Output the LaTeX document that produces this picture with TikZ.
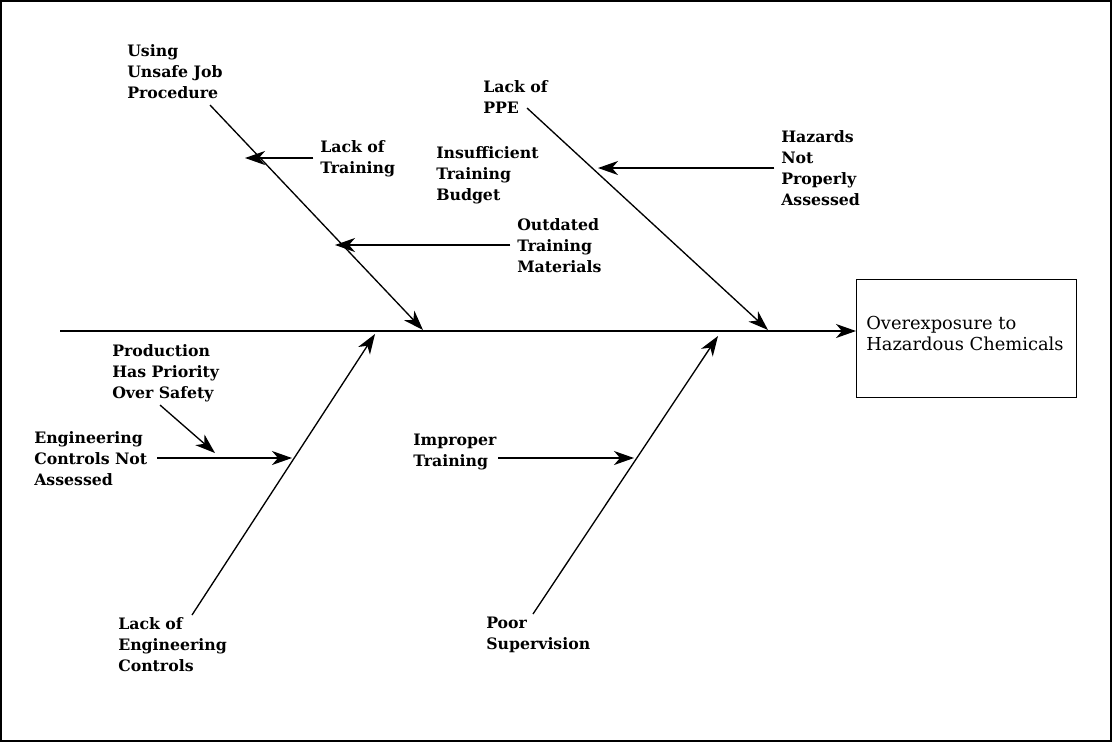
\documentclass[tikz,border=0pt]{standalone}
\usepackage{fontspec}
\setmainfont{DejaVu Serif}
\usetikzlibrary{arrows.meta}
\tikzset{
  cause/.style={font=\bfseries\fontsize{11.8}{15.8}\selectfont, align=left, inner sep=0pt, anchor=north west},
  bone/.style={line width=1pt, -{Stealth[length=15pt,width=10.5pt,inset=4.5pt]}},
}
\begin{document}
\begin{tikzpicture}[x=0.75pt,y=-0.75pt]
    \useasboundingbox (0,0) rectangle (1114,744);
    \draw[line width=1pt] (1,1) rectangle (1111,741);
    % effect box
    \node[draw, line width=1pt, minimum width=165pt, minimum height=88.5pt, anchor=north west,
          inner sep=0pt] (effect) at (856,279) {};
    \node[font=\fontsize{13.4}{15.8}\selectfont, align=left, inner sep=0pt, anchor=north west]
          (effecttxt) at (866,316) {Overexposure to\\Hazardous Chemicals};
    % spine
    \coordinate (tail) at (60,331);
    \coordinate (j1) at (423,330);
    \coordinate (j2) at (768,330);
    \coordinate (j3) at (375,334);
    \coordinate (j4) at (718,336);
    \draw[bone] (tail) -- (effect.west |- tail);
    % upper causes
    \node[cause] (unsafe) at (127,44) {Using\\Unsafe Job\\Procedure};
    \node[cause] (ppe) at (483,80) {Lack of\\PPE};
    \node[cause] (training) at (320,140) {Lack of\\Training};
    \node[cause] (outdated) at (517,218) {Outdated\\Training\\Materials};
    \node[cause] (budget) at (436,146) {Insufficient\\Training\\Budget};
    \node[cause] (hazards) at (781,130) {Hazards\\Not\\Properly\\Assessed};
    \coordinate (t1) at (210,105);
    \coordinate (t2) at (527,108);
    \draw[bone] (t1) -- (j1);
    \draw[bone] (t2) -- (j2);
    \draw[bone] ([xshift=-5pt]training.west |- 0,158) -- (245,158);
    \draw[bone] ([xshift=-5pt]outdated.west |- 0,245) -- (335,245);
    \draw[bone] ([xshift=-5pt]hazards.west |- 0,168) -- (598,168);
    % lower causes
    \node[cause] (prod) at (112,344) {Production\\Has Priority\\Over Safety};
    \node[cause] (ecna) at (34,431) {Engineering\\Controls Not\\Assessed};
    \node[cause] (improper) at (413,434) {Improper\\Training};
    \node[cause] (englack) at (118,617) {Lack of\\Engineering\\Controls};
    \node[cause] (poor) at (486,617) {Poor\\Supervision};
    \coordinate (t3) at (192,615);
    \coordinate (t4) at (533,614);
    \draw[bone] (t3) -- (j3);
    \draw[bone] (t4) -- (j4);
    \draw[bone] (157,458) -- (292,458);
    \draw[bone] (160,405) -- (215,453);
    \draw[bone] (498,458) -- (634,458);
\end{tikzpicture}
\end{document}
